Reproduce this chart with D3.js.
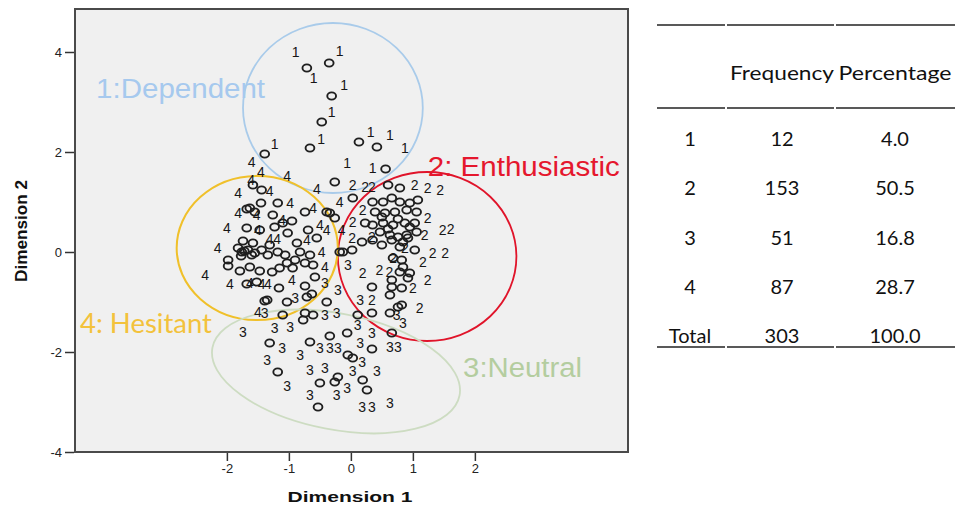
<!DOCTYPE html>
<html>
<head>
<meta charset="utf-8">
<script src="https://cdn.jsdelivr.net/npm/d3@7"></script>
<style>
  body { margin: 0; background: #fff; }
  svg { display: block; }
</style>
</head>
<body>
<svg id="chart" width="955" height="508"></svg>
<script>
// Object scores on the two dimensions, grouped by cluster: [dimension 1, dimension 2]
const dependentPoints = [
  [-0.71, 3.68], [-0.35, 3.78], [-0.31, 3.12], [-0.47, 2.60], [-0.66, 2.08],
  [-1.39, 1.96], [0.13, 2.20], [0.42, 2.10], [0.56, 1.66], [-0.26, 1.40]
];
const enthusiasticPoints = [
  [0.60, 1.34], [0.79, 1.28], [0.35, 1.00], [0.52, 1.00], [0.66, 1.08], [0.79, 1.00],
  [0.95, 0.98], [1.08, 1.04], [0.39, 0.80], [0.55, 0.78], [0.71, 0.80], [0.90, 0.84],
  [1.06, 0.80], [-0.26, 0.68], [0.23, 0.58], [0.35, 0.54], [0.52, 0.58], [0.68, 0.54],
  [0.87, 0.58], [1.03, 0.58], [0.47, 0.40], [0.63, 0.34], [0.76, 0.30], [0.90, 0.34],
  [1.06, 0.40], [0.18, 0.20], [0.35, 0.24], [0.50, 0.14], [0.66, 0.24], [0.79, 0.10],
  [0.92, 0.28], [1.03, 0.04], [0.02, 0.04], [-0.13, 0.00], [0.68, -0.12], [0.82, -0.16],
  [0.84, -0.30], [0.79, -0.40], [0.95, -0.42], [0.92, -0.52], [0.66, -0.56], [0.66, -0.70],
  [0.82, -0.72], [0.63, -0.86], [0.34, -0.70], [0.82, -1.06], [0.76, -1.10], [0.34, -1.22],
  [0.63, -1.22], [0.50, 0.70], [0.76, 0.66], [0.95, 0.50], [0.60, 0.46], [0.84, 0.20]
];
const neutralPoints = [
  [-1.10, -1.26], [-0.77, -1.36], [-0.74, -1.22], [-0.61, -1.26], [-0.39, -1.00],
  [0.66, -1.62], [-1.31, -1.82], [-0.66, -1.80],
  [-0.34, -1.68], [-0.06, -1.62], [-0.05, -2.06], [0.03, -2.12], [0.34, -1.94],
  [-1.18, -2.40], [-0.50, -2.62], [-0.26, -2.60], [-0.21, -2.50], [0.19, -2.56],
  [0.26, -2.76], [-0.53, -3.10], [-0.63, -0.84], [-0.71, -0.90], [0.11, -1.26]
];
const hesitantPoints = [
  [-1.58, 1.34], [-1.44, 1.24], [-1.63, 0.88], [-1.45, 0.98], [-1.18, 0.98], [-0.74, 0.80],
  [-1.68, 0.86], [-1.55, 0.80], [-1.26, 0.74], [-0.95, 0.62], [-1.10, 0.58], [-1.23, 0.50],
  [-1.68, 0.48], [-0.69, 0.44], [-1.47, 0.44], [-1.02, 0.38], [-0.55, 0.28], [-1.74, 0.22],
  [-1.58, 0.18], [-1.31, 0.14], [-0.87, 0.18], [-0.39, 0.80], [-0.34, 0.78], [0.03, 1.08],
  [-0.18, 0.00], [-1.98, -0.16], [-1.98, -0.28], [-1.79, -0.38], [-1.63, -0.30], [-1.47, -0.38],
  [-1.27, -0.40], [-1.15, -0.32], [-1.03, -0.22], [-0.90, -0.16], [-0.74, -0.22], [-0.94, -0.32],
  [-0.61, -0.26], [-0.58, -0.50], [-1.68, -0.64], [-1.52, -0.60], [-1.16, -0.72], [-0.74, -0.68],
  [-1.35, -0.96], [-1.03, -1.00], [-1.76, 0.00], [-1.55, -0.02], [-1.34, -0.06], [-1.18, 0.00],
  [-1.82, 0.08], [-1.72, 0.02], [-1.66, 0.04], [-1.77, -0.08], [-1.60, -0.06], [-1.44, 0.04],
  [-1.06, -0.06], [-0.82, 0.00], [-0.66, -0.06], [-1.39, -0.98]
];

// Case labels (cluster number) as printed beside the object points
const dependentLabels = [
  [-0.89, 4.00], [-0.18, 4.02], [-0.60, 3.48], [-0.11, 3.34], [-0.31, 2.80], [-0.48, 2.26],
  [-1.23, 2.16], [0.32, 2.40], [0.63, 2.34], [0.87, 2.08], [-0.06, 1.78], [0.35, 1.68]
];
const enthusiasticLabels = [
  [0.03, 1.34], [0.23, 1.30], [0.34, 1.30], [1.03, 1.34], [1.24, 1.28], [1.44, 1.25],
  [0.19, 0.84], [0.03, 0.60], [1.24, 0.68], [1.48, 0.44], [1.61, 0.46], [0.02, 0.28],
  [0.34, 0.30], [0.68, -0.12], [1.32, -0.02], [1.52, -0.02], [0.19, -0.42], [0.46, -0.36],
  [0.62, -0.40], [1.16, -0.20], [1.24, -0.56], [1.00, -0.72], [0.34, -0.96], [1.11, -1.12],
  [1.19, 0.34], [0.87, 0.08]
];
const neutralLabels = [
  [-1.39, -1.22], [-0.42, -1.26], [-0.23, -1.22], [-1.74, -1.60], [-1.23, -1.52], [-0.98, -1.50],
  [0.11, -1.46], [0.34, -1.62], [0.84, -1.42], [-1.11, -1.92], [-0.50, -1.92], [-0.34, -1.92],
  [-0.21, -1.92], [-0.82, -2.06], [0.15, -1.82], [0.63, -1.90], [0.76, -1.90], [-1.35, -2.16],
  [0.18, -2.20], [-0.66, -2.36], [-0.42, -2.32], [0.03, -2.38], [0.42, -2.38], [-1.03, -2.68],
  [-0.06, -2.72], [-0.66, -2.86], [-0.23, -2.86], [0.18, -3.10], [0.34, -3.10], [0.63, -3.02],
  [-0.05, -0.26], [-0.21, -0.76], [0.15, -0.96], [0.74, -1.26], [-0.90, -0.92], [-0.42, -0.62]
];
const hesitantLabels = [
  [-1.60, 1.80], [-1.45, 1.60], [-1.61, 1.44], [-1.03, 1.52], [-0.55, 1.26], [-1.82, 1.18],
  [-1.31, 1.22], [-0.98, 0.98], [-1.82, 0.78], [-1.52, 0.74], [-0.61, 0.88], [-1.11, 0.64],
  [-2.00, 0.48], [-1.50, 0.44], [-0.50, 0.54], [-1.31, 0.26], [-1.19, 0.26], [-0.71, 0.24],
  [-2.15, 0.08], [-2.35, -0.46], [-1.95, -0.64], [-1.63, -0.62], [-1.44, -0.64], [-1.34, -0.64],
  [-0.95, -0.56], [-0.47, 0.00], [-0.42, -0.30], [-1.50, -1.20], [-0.18, 1.00], [-0.39, 0.44],
  [-0.15, 0.44]
];

// Axis ticks
const xTicks = [-2, -1, 0, 1, 2];
const yTicks = [4, 2, 0, -2, -4];

// Cluster membership table
const tableHeaders = ["", "Frequency", "Percentage"];
const tableRows = ["1", "2", "3", "4", "Total"];
const frequencies = [12, 153, 51, 87, 303];
const percentages = ["4.0", "50.5", "16.8", "28.7", "100.0"];

const svg = d3.select("#chart");
const sans = "'Liberation Sans', Arial, sans-serif";

const x = d3.scaleLinear().domain([-4.45, 4.47]).range([75, 628]);
const y = d3.scaleLinear().domain([-4, 4.86]).range([452, 9]);

// Plot panel
svg.append("rect")
  .attr("x", x.range()[0]).attr("y", y.range()[1])
  .attr("width", x.range()[1] - x.range()[0])
  .attr("height", y.range()[0] - y.range()[1])
  .attr("fill", "#f0f0f0").attr("stroke", "#4a4a4a").attr("stroke-width", 2);

// Axes
const yAxis = svg.append("g")
  .attr("transform", `translate(${x.range()[0] - 1},0)`)
  .call(d3.axisLeft(y).tickValues(yTicks).tickSize(9).tickPadding(3).tickFormat(d => String(d)));
const xAxis = svg.append("g")
  .attr("transform", `translate(0,${y.range()[0] + 1})`)
  .call(d3.axisBottom(x).tickValues(xTicks).tickSize(8).tickPadding(3).tickFormat(d => String(d)));
[xAxis, yAxis].forEach(g => {
  g.select(".domain").remove();
  g.selectAll(".tick line").attr("stroke", "#333").attr("stroke-width", 1.5);
  g.selectAll(".tick text").attr("fill", "#222").attr("font-family", sans).attr("font-size", 13);
});

svg.append("text")
  .attr("x", 350).attr("y", 502)
  .attr("text-anchor", "middle")
  .attr("font-family", sans).attr("font-weight", "bold").attr("font-size", 15)
  .attr("textLength", 125).attr("lengthAdjust", "spacingAndGlyphs")
  .attr("fill", "#111")
  .text("Dimension 1");
svg.append("text")
  .attr("transform", "translate(27,231) rotate(-90)")
  .attr("text-anchor", "middle")
  .attr("font-family", sans).attr("font-weight", "bold").attr("font-size", 16)
  .attr("textLength", 102).attr("lengthAdjust", "spacingAndGlyphs")
  .attr("fill", "#111")
  .text("Dimension 2");

// Cluster outlines
const outlines = [
  { cx: -0.29, cy: 2.88, rx: 1.45, ry: 1.70, angle: 0, color: "#a9cbea", width: 1.8 },
  { cx: 1.23, cy: -0.09, rx: 1.44, ry: 1.69, angle: 0, color: "#e0142a", width: 1.8 },
  { cx: -1.51, cy: 0.08, rx: 1.30, ry: 1.44, angle: 0, color: "#f0c02a", width: 2 },
  { cx: -0.24, cy: -2.39, rx: 2.03, ry: 1.16, angle: 11, color: "#cddcc2", width: 1.8 }
];
const ux = x(1) - x(0), uy = y(0) - y(1);
svg.append("g").selectAll("ellipse").data(outlines).join("ellipse")
  .attr("transform", d => `translate(${x(d.cx)},${y(d.cy)}) rotate(${d.angle})`)
  .attr("rx", d => d.rx * ux).attr("ry", d => d.ry * uy)
  .attr("fill", "none").attr("stroke", d => d.color).attr("stroke-width", d => d.width);

// Object points
const clusters = [
  { id: "1", points: dependentPoints, labels: dependentLabels },
  { id: "2", points: enthusiasticPoints, labels: enthusiasticLabels },
  { id: "3", points: neutralPoints, labels: neutralLabels },
  { id: "4", points: hesitantPoints, labels: hesitantLabels }
];
const marks = svg.append("g");
clusters.forEach(c => {
  marks.append("g").selectAll("ellipse").data(c.points).join("ellipse")
    .attr("cx", d => x(d[0])).attr("cy", d => y(d[1]))
    .attr("rx", 4.4).attr("ry", 3.6)
    .attr("fill", "none").attr("stroke", "#1f1f1f").attr("stroke-width", 1.9);
});
clusters.forEach(c => {
  marks.append("g").selectAll("text").data(c.labels).join("text")
    .attr("x", d => x(d[0])).attr("y", d => y(d[1]))
    .attr("text-anchor", "middle").attr("dominant-baseline", "central")
    .attr("font-family", sans).attr("font-size", 14).attr("fill", "#161616")
    .text(c.id);
});

// Cluster names
const names = [
  { text: "1:Dependent", x: -4.11, y: 3.08, len: 169, color: "#a6c9ee", font: sans, size: 27 },
  { text: "2: Enthusiastic", x: 1.24, y: 1.52, len: 192, color: "#e5172d", font: sans, size: 27 },
  { text: "4: Hesitant", x: -4.37, y: -1.62, len: 132, color: "#f3c23c", font: "Lato, 'Open Sans', sans-serif", size: 26 },
  { text: "3:Neutral", x: 1.81, y: -2.50, len: 119, color: "#b4cd9f", font: sans, size: 27 }
];
svg.append("g").selectAll("text").data(names).join("text")
  .attr("x", d => x(d.x)).attr("y", d => y(d.y))
  .attr("font-family", d => d.font).attr("font-size", d => d.size)
  .attr("textLength", d => d.len).attr("lengthAdjust", "spacingAndGlyphs")
  .attr("fill", d => d.color)
  .text(d => d.text);

// Frequency table
const table = svg.append("g");
const tableFont = "Lato, 'Open Sans', sans-serif";
const colSpans = [[657, 725], [727, 834], [836, 955]];
const colCenter = [690, 782, 895];
const ruleY = [25, 108, 347];
ruleY.forEach(ry => {
  table.append("g").selectAll("line").data(colSpans).join("line")
    .attr("x1", d => d[0]).attr("x2", d => d[1])
    .attr("y1", ry).attr("y2", ry)
    .attr("stroke", "#222").attr("stroke-width", 1.6);
});
const headerX = [690, 782, 895];
const headerLen = [0, 104, 113];
table.append("g").selectAll("text").data(tableHeaders).join("text")
  .attr("x", (d, i) => headerX[i]).attr("y", 72)
  .attr("text-anchor", "middle").attr("dominant-baseline", "central")
  .attr("font-family", tableFont).attr("font-size", 20).attr("fill", "#111")
  .attr("textLength", (d, i) => headerLen[i] || null).attr("lengthAdjust", "spacingAndGlyphs")
  .text(d => d);
const rowY = d3.scalePoint().domain(tableRows).range([138, 335]);
const cells = tableRows.map((r, i) => [r, String(frequencies[i]), percentages[i]]);
cells.forEach((row, ri) => {
  table.append("g").selectAll("text").data(row).join("text")
    .attr("x", (d, i) => colCenter[i]).attr("y", rowY(tableRows[ri]))
    .attr("text-anchor", "middle").attr("dominant-baseline", "central")
    .attr("font-family", tableFont).attr("font-size", 20).attr("fill", "#111")
    .text(d => d);
});
</script>
</body>
</html>
